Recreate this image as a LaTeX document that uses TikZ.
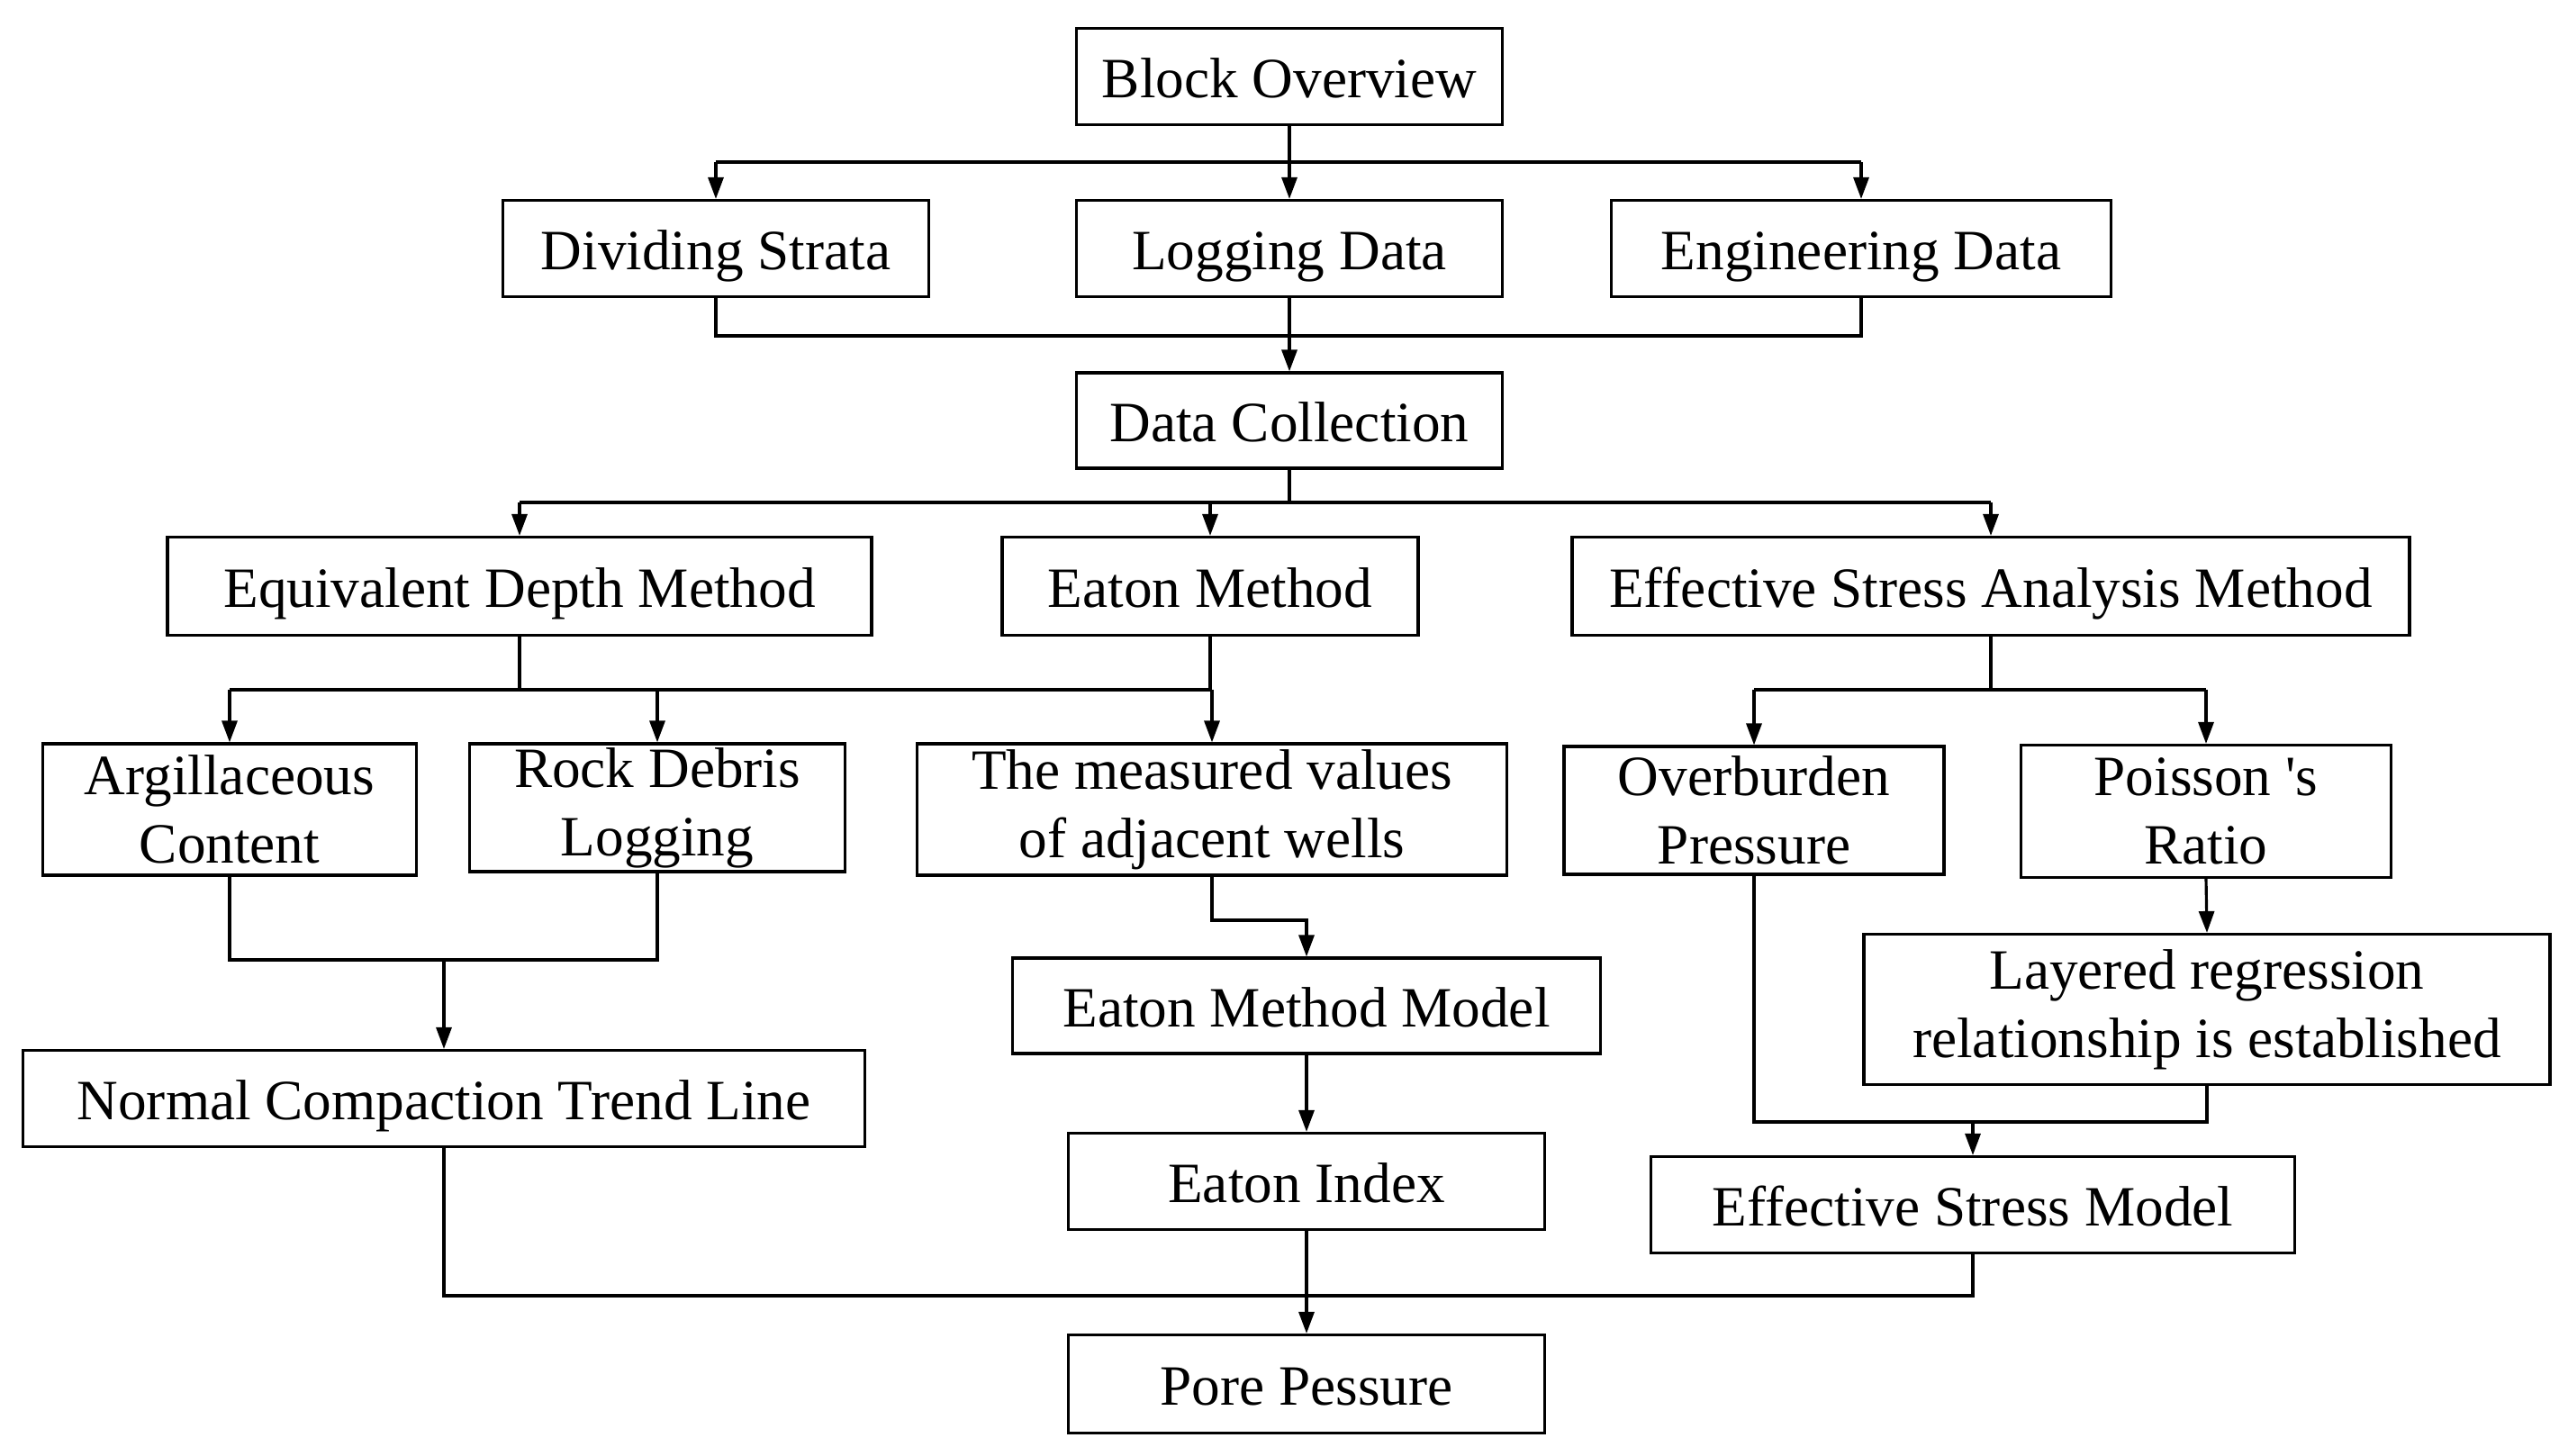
\documentclass[tikz,border=0pt]{standalone}
\usepackage{fontspec}
\setmainfont{Liberation Serif}[Ligatures=TeXOff]
\usetikzlibrary{arrows.meta}

\begin{document}
\begin{tikzpicture}[
	box/.style={draw, line width=0.9pt, inner sep=0pt, align=center, font=\fontsize{18}{21.7}\selectfont},
	tbox/.style={box, text height=17.1pt, text depth=3.6pt},
	arr/.style={-{Triangle[length=0.24cm,width=0.17cm]}},
	line width=0.9pt]
	\useasboundingbox (0,0) rectangle (28.52,-16.16);
	\node[tbox, minimum width=4.73cm, minimum height=1.07cm] (over) at (14.32,-0.85) {Block Overview};
	\node[tbox, minimum width=4.73cm, minimum height=1.07cm] (strata) at (7.95,-2.76) {Dividing Strata};
	\node[tbox, minimum width=4.73cm, minimum height=1.07cm] (logging) at (14.32,-2.76) {Logging Data};
	\node[tbox, minimum width=5.55cm, minimum height=1.07cm] (engdata) at (20.67,-2.76) {Engineering Data};
	\node[tbox, minimum width=4.73cm, minimum height=1.06cm] (collect) at (14.32,-4.67) {Data Collection};
	\node[tbox, minimum width=7.82cm, minimum height=1.09cm] (eqdepth) at (5.77,-6.51) {Equivalent Depth Method};
	\node[tbox, minimum width=4.62cm, minimum height=1.09cm] (eaton) at (13.44,-6.51) {Eaton Method};
	\node[tbox, minimum width=9.30cm, minimum height=1.09cm] (esam) at (22.11,-6.51) {Effective Stress Analysis Method};
	\node[box, minimum width=4.15cm, minimum height=1.46cm] (argil) at (2.55,-8.99) {Argillaceous\\Content};
	\node[box, minimum width=4.17cm, minimum height=1.42cm] (debris) at (7.30,-8.97) {Rock Debris\\Logging};
	\node[box, minimum width=6.55cm, minimum height=1.46cm] (measured) at (13.46,-8.99) {The measured values\\of adjacent wells};
	\node[box, minimum width=4.22cm, minimum height=1.42cm] (overb) at (19.48,-9.00) {Overburden\\Pressure};
	\node[box, minimum width=4.11cm, minimum height=1.47cm] (poisson) at (24.50,-9.01) {Poisson 's\\Ratio};
	\node[box, minimum width=7.62cm, minimum height=1.67cm] (layered) at (24.51,-11.21) {Layered regression\\relationship is established};
	\node[tbox, minimum width=6.53cm, minimum height=1.06cm] (emodel) at (14.51,-11.17) {Eaton Method Model};
	\node[tbox, minimum width=9.35cm, minimum height=1.07cm] (nctl) at (4.93,-12.20) {Normal Compaction Trend Line};
	\node[tbox, minimum width=5.29cm, minimum height=1.07cm] (eindex) at (14.51,-13.12) {Eaton Index};
	\node[tbox, minimum width=7.15cm, minimum height=1.07cm] (esmodel) at (21.91,-13.38) {Effective Stress Model};
	\node[tbox, minimum width=5.29cm, minimum height=1.09cm] (pore) at (14.51,-15.37) {Pore Pessure};

	\coordinate (bus1) at (0,-1.80);
	\coordinate (bus2) at (0,-3.73);
	\coordinate (bus3) at (0,-5.58);
	\coordinate (bus4) at (0,-7.66);
	\coordinate (bus5) at (0,-10.66);
	\coordinate (bus6) at (0,-10.22);
	\coordinate (bus7) at (0,-12.46);
	\coordinate (bus8) at (0,-14.39);

	\draw (over.south) -- (over.south |- bus1);
	\draw (strata.north |- bus1) -- (engdata.north |- bus1);
	\foreach \n in {strata, logging, engdata}
		\draw[arr] (\n.north |- bus1) -- (\n.north);
	\draw (strata.south) |- (engdata.south |- bus2) -- (engdata.south);
	\draw[arr] (logging.south) -- (collect.north);

	\draw (collect.south) -- (collect.south |- bus3);
	\draw (eqdepth.north |- bus3) -- (esam.north |- bus3);
	\foreach \n in {eqdepth, eaton, esam}
		\draw[arr] (\n.north |- bus3) -- (\n.north);

	\draw (eqdepth.south) -- (eqdepth.south |- bus4);
	\draw (eaton.south) -- (eaton.south |- bus4);
	\draw (argil.north |- bus4) -- (measured.north |- bus4);
	\foreach \n in {argil, debris, measured}
		\draw[arr] (\n.north |- bus4) -- (\n.north);
	\draw (esam.south) -- (esam.south |- bus4);
	\draw (overb.north |- bus4) -- (poisson.north |- bus4);
	\foreach \n in {overb, poisson}
		\draw[arr] (\n.north |- bus4) -- (\n.north);

	\draw (argil.south) |- (debris.south |- bus5) -- (debris.south);
	\draw[arr] (nctl.north |- bus5) -- (nctl.north);
	\draw[arr] (measured.south) -- (measured.south |- bus6) -| (emodel.north);
	\draw[arr] (emodel.south) -- (eindex.north);
	\draw[arr] (poisson.south) -- (layered.north);

	\draw (overb.south) |- (layered.south |- bus7) -- (layered.south);
	\draw[arr] (esmodel.north |- bus7) -- (esmodel.north);

	\draw (nctl.south) |- (esmodel.south |- bus8) -- (esmodel.south);
	\draw (eindex.south) -- (eindex.south |- bus8);
	\draw[arr] (pore.north |- bus8) -- (pore.north);
\end{tikzpicture}
\end{document}
